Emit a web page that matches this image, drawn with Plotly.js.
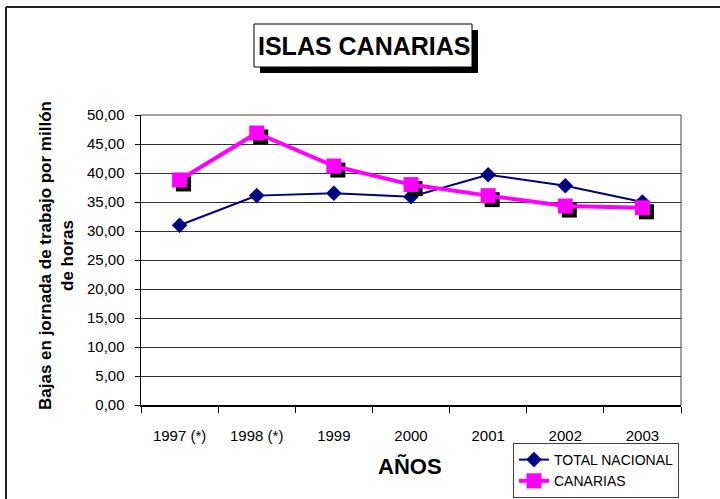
<!DOCTYPE html>
<html>
<head>
<meta charset="utf-8">
<script src="https://cdn.plot.ly/plotly-3.0.1.min.js"></script>
<style>html,body{margin:0;padding:0;background:#fff;}#chart{width:720px;height:499px;}</style>
</head>
<body>
<div id="chart"></div>
<script>
// ---- data ----
const years = ["1997 (*)", "1998 (*)", "1999", "2000", "2001", "2002", "2003"];
const totalNacional = [31.0, 36.1, 36.5, 35.9, 39.7, 37.8, 35.0];
const canarias = [38.8, 46.9, 41.2, 38.0, 36.1, 34.3, 34.0];
const yTicks = [0, 5, 10, 15, 20, 25, 30, 35, 40, 45, 50];

// ---- geometry (pixels) ----
const W = 720, H = 499;
const L = 141, R = 681, T = 115, B = 405;
const pw = R - L, ph = B - T;
const px = x => (x - L) / pw;
const py = y => (B - y) / ph;
const sh = 4; // shadow offset in px
const dx = sh * years.length / pw;
const dy = sh * 50 / ph;

const font = "'Liberation Sans', Arial, sans-serif";

const traces = [
  {
    x: years, y: totalNacional, type: 'scatter', mode: 'lines+markers',
    name: 'TOTAL NACIONAL', xaxis: 'x', yaxis: 'y',
    line: { color: '#000080', width: 2 },
    marker: { symbol: 'diamond', size: 12, color: '#000080' }
  },
  { // shadow of canarias markers
    x: years, y: canarias, type: 'scatter', mode: 'markers',
    xaxis: 'x2', yaxis: 'y2', showlegend: false, hoverinfo: 'skip',
    marker: { symbol: 'square', size: 15, color: '#000000' }
  },
  {
    x: years, y: canarias, type: 'scatter', mode: 'lines+markers',
    name: 'CANARIAS', xaxis: 'x3', yaxis: 'y3',
    line: { color: '#FF00FF', width: 4 },
    marker: { symbol: 'square', size: 15, color: '#FF00FF' }
  }
];

const hiddenAxis = { showticklabels: false, ticks: '', showline: false, showgrid: false, zeroline: false, fixedrange: true };

const layout = {
  width: W, height: H,
  margin: { l: L, r: W - R, t: T, b: H - B, pad: 0, autoexpand: false },
  paper_bgcolor: '#ffffff', plot_bgcolor: '#ffffff',
  separators: ',.',
  font: { family: font, size: 15, color: '#000' },
  showlegend: true,
  legend: {
    x: px(513), y: py(443), xanchor: 'left', yanchor: 'top',
    bgcolor: '#ffffff', bordercolor: '#404040', borderwidth: 1,
    font: { family: font, size: 14, color: '#000' },
    tracegroupgap: 0
  },
  xaxis: {
    type: 'category', range: [-0.5, years.length - 0.5],
    tickson: 'boundaries', ticks: 'outside', ticklen: 6, tickcolor: '#000',
    showline: true, linecolor: '#000', linewidth: 1.5,
    showgrid: false, zeroline: false, automargin: false,
    tickfont: { family: font, size: 15, color: '#000' },
    ticklabelstandoff: 16, fixedrange: true
  },
  yaxis: {
    range: [0, 50], tickvals: yTicks, tickformat: '.2f',
    ticks: 'outside', ticklen: 5, tickcolor: '#000',
    showline: true, linecolor: '#000', linewidth: 1.5,
    showgrid: true, gridcolor: '#303030', gridwidth: 1, zeroline: false, automargin: false,
    tickfont: { family: font, size: 15, color: '#000' },
    ticklabelstandoff: 7, fixedrange: true
  },
  xaxis2: Object.assign({}, hiddenAxis, { overlaying: 'x', type: 'category', range: [-0.5 - dx, years.length - 0.5 - dx] }),
  yaxis2: Object.assign({}, hiddenAxis, { overlaying: 'y', range: [dy, 50 + dy] }),
  xaxis3: Object.assign({}, hiddenAxis, { overlaying: 'x', type: 'category', range: [-0.5, years.length - 0.5] }),
  yaxis3: Object.assign({}, hiddenAxis, { overlaying: 'y', range: [0, 50] }),
  shapes: [
    // plot area top/right border (gray)
    { type: 'line', xref: 'paper', yref: 'paper', x0: 0, x1: 1, y0: 1, y1: 1, line: { color: '#808080', width: 1.5 }, layer: 'below' },
    { type: 'line', xref: 'paper', yref: 'paper', x0: 1, x1: 1, y0: 0, y1: 1, line: { color: '#808080', width: 1.5 }, layer: 'below' },
    // outer chart border (left/top)
    { type: 'line', xref: 'paper', yref: 'paper', x0: px(6), x1: px(6), y0: py(7), y1: py(499), line: { color: '#202020', width: 2 } },
    { type: 'line', xref: 'paper', yref: 'paper', x0: px(6), x1: px(720), y0: py(7), y1: py(7), line: { color: '#202020', width: 2 } },
    // title box shadow + box
    { type: 'rect', xref: 'paper', yref: 'paper', x0: px(254 + 6), x1: px(472 + 6), y0: py(67 + 6), y1: py(24 + 6), fillcolor: '#000', line: { width: 0 } },
    { type: 'rect', xref: 'paper', yref: 'paper', x0: px(254), x1: px(472), y0: py(67), y1: py(24), fillcolor: '#fff', line: { color: '#000', width: 1 } }
  ],
  annotations: [
    { text: '<b>ISLAS CANARIAS</b>', xref: 'paper', yref: 'paper', x: px(364), y: py(46),
      xanchor: 'center', yanchor: 'middle', showarrow: false, font: { family: font, size: 25, color: '#000' } },
    { text: '<b>AÑOS</b>', xref: 'paper', yref: 'paper', x: px(410), y: py(466),
      xanchor: 'center', yanchor: 'middle', showarrow: false, font: { family: font, size: 22, color: '#000' } },
    { text: '<b>Bajas en jornada de trabajo por millón<br>de horas</b>', xref: 'paper', yref: 'paper',
      x: px(56), y: py(256), xanchor: 'center', yanchor: 'middle', textangle: -90, showarrow: false,
      font: { family: font, size: 17, color: '#000' } }
  ]
};

Plotly.newPlot('chart', traces, layout, { displayModeBar: false, staticPlot: true });
</script>
</body>
</html>
